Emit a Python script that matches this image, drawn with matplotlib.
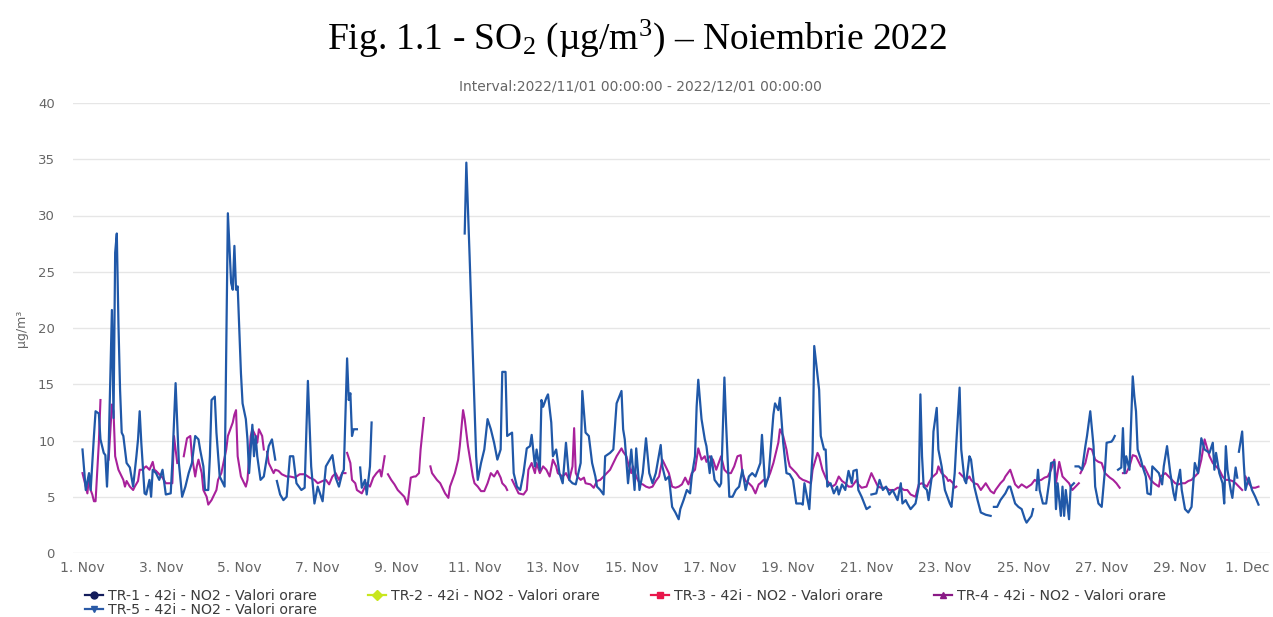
import numpy as np
import matplotlib
matplotlib.use('Agg')
import matplotlib.pyplot as plt
from matplotlib.lines import Line2D
from matplotlib.transforms import ScaledTranslation

plt.rcParams['font.family'] = ['DejaVu Sans']
plt.rcParams['mathtext.fontset'] = 'custom'
plt.rcParams['mathtext.rm'] = 'Liberation Serif'
plt.rcParams['mathtext.it'] = 'Liberation Serif:italic'

# hours since 2022-11-01 00:00 and hourly values in ug/m3 (None = missing data)
tr5_points = [
    (0, 9.2), (2, 5.6), (4, 7.1), (5, 5.6), (7, 10.4), (8, 12.6), (10, 12.4), (11, 10.1), (13, 8.9), (14, 8.7),
    (15, 5.9), (16, 9.2), (18, 21.6), (19, 12.0), (20, 26.7), (21, 28.4), (22, 20.4), (23, 14.5), (24, 10.7), (25, 10.4),
    (27, 8.0), (29, 7.6), (31, 5.9), (33, 8.6), (34, 10.1), (35, 12.6), (36, 9.8), (38, 5.3), (39, 5.2), (41, 6.5),
    (42, 5.0), (43, 7.4), (45, 7.1), (47, 6.5), (49, 7.4), (51, 5.2), (54, 5.3), (55, 8.0), (57, 15.1), (58, 11.6),
    (59, 8.0), (61, 5.0), (63, 5.9), (65, 7.1), (67, 8.0), (69, 10.4), (71, 10.1), (72, 9.2), (74, 7.7), (75, 5.6),
    (77, 5.6), (78, 8.6), (79, 13.6), (81, 13.9), (82, 10.7), (84, 6.8), (85, 6.5), (87, 5.9), (89, 30.2), (91, 24.0),
    (92, 23.4), (93, 27.3), (94, 23.4), (95, 23.7), (97, 16.0), (98, 13.3), (100, 11.9), (101, 10.1), (102, 7.1), (104, 11.4),
    (105, 8.6), (106, 10.4), (107, 8.6), (109, 6.5), (111, 6.8), (113, 8.6), (114, 9.5), (116, 10.1), (118, 8.3), (118.5, None),
    (119, 6.4), (121, 5.2), (123, 4.7), (125, 5.0), (127, 8.6), (129, 8.6), (131, 6.2), (134, 5.6), (136, 5.8), (138, 15.3),
    (140, 7.7), (142, 4.4), (144, 5.9), (147, 4.6), (149, 7.7), (153, 8.7), (155, 6.7), (157, 5.9), (159, 7.1), (160, 7.4),
    (162, 17.3), (163, 13.6), (164, 14.2), (165, 10.4), (166, 11.0), (168, 11.0), (169, None), (170, 7.6), (171, 5.8), (173, 6.5),
    (174, 5.2), (176, 7.7), (177, 11.6), (197, None), (234, 28.4), (235, 34.7), (237, 26.4), (239, 17.5), (241, 8.6), (242, 6.5),
    (244, 8.0), (246, 9.2), (248, 11.9), (250, 11.0), (252, 9.8), (254, 8.3), (256, 9.2), (257, 16.1), (259, 16.1), (260, 10.4),
    (263, 10.7), (264, 7.1), (266, 5.9), (268, 5.6), (270, 7.1), (272, 9.3), (274, 9.5), (275, 10.5), (277, 7.7), (278, 9.2),
    (280, 7.4), (281, 13.6), (282, 13.0), (284, 13.8), (285, 14.1), (287, 11.6), (288, 8.6), (290, 9.2), (292, 7.1), (294, 6.2),
    (296, 9.8), (298, 6.5), (300, 6.2), (302, 6.1), (305, 8.0), (306, 14.4), (308, 10.7), (310, 10.4), (312, 8.0), (314, 6.8),
    (315, 5.9), (317, 5.6), (319, 5.2), (320, 8.6), (323, 8.9), (325, 9.2), (327, 13.3), (330, 14.4), (331, 11.0), (332, 10.1),
    (334, 6.2), (336, 9.2), (338, 5.6), (339, 9.3), (341, 5.6), (343, 7.1), (345, 10.2), (347, 7.1), (349, 6.2), (351, 7.1),
    (354, 9.6), (355, 7.7), (357, 6.5), (359, 6.8), (361, 4.1), (363, 3.6), (365, 3.0), (366, 3.9), (368, 4.7), (370, 5.6),
    (372, 5.3), (373, 6.8), (375, 8.6), (376, 13.0), (377, 15.4), (379, 11.9), (381, 10.1), (382, 9.5), (384, 7.1), (385, 8.6),
    (387, 6.5), (390, 5.9), (391, 6.2), (393, 15.6), (394, 11.6), (396, 5.0), (398, 5.0), (400, 5.6), (402, 5.9), (404, 7.4),
    (406, 5.6), (408, 6.8), (410, 7.1), (412, 6.8), (415, 8.0), (416, 10.5), (418, 5.9), (420, 6.8), (423, 12.3), (424, 13.3),
    (426, 12.7), (427, 13.8), (429, 9.8), (431, 7.1), (433, 7.0), (435, 6.5), (437, 4.4), (440, 4.4), (441, 4.3), (442, 6.2),
    (444, 4.7), (445, 3.9), (447, 8.9), (448, 18.4), (451, 14.5), (452, 10.4), (454, 9.2), (455, 9.2), (456, 5.9), (458, 6.2),
    (460, 5.3), (462, 5.9), (463, 5.2), (465, 6.1), (467, 5.6), (469, 7.3), (471, 6.2), (472, 7.3), (474, 7.4), (475, 5.6),
    (477, 5.0), (480, 3.9), (482, 4.1), (482.5, None), (483, 5.2), (486, 5.3), (488, 6.5), (490, 5.6), (492, 5.9), (494, 5.2),
    (496, 5.6), (498, 5.0), (499, 4.7), (501, 6.2), (502, 4.4), (504, 4.7), (505, 4.4), (507, 3.9), (510, 4.4), (512, 5.9),
    (513, 14.1), (514, 8.6), (515, 5.9), (517, 5.6), (518, 4.7), (520, 6.8), (521, 10.8), (523, 12.9), (524, 9.2), (526, 7.7),
    (528, 5.6), (531, 4.4), (532, 4.1), (534, 7.1), (535, 9.8), (537, 14.7), (538, 9.2), (540, 6.5), (541, 6.2), (543, 8.6),
    (544, 8.3), (546, 5.9), (548, 4.7), (550, 3.6), (553, 3.4), (556, 3.3), (557, None), (558, 4.1), (560, 4.1), (562, 4.7),
    (565, 5.3), (567, 5.9), (568, 5.9), (571, 4.4), (573, 4.1), (575, 3.9), (577, 3.0), (578, 2.7), (581, 3.3), (582, 3.9),
    (583, None), (584, 5.6), (585, 7.4), (586, 5.6), (588, 4.4), (590, 4.4), (592, 6.5), (593, 8.0), (595, 8.1), (596, 3.9),
    (597, 6.2), (599, 3.3), (600, 5.9), (601, 3.3), (602, 5.6), (604, 3.0), (605, 5.9), (607, 6.2), (607.5, None), (608, 7.7),
    (610, 7.7), (612, 7.4), (614, 9.5), (615, 10.4), (617, 12.6), (619, 9.5), (620, 5.9), (622, 4.4), (624, 4.1), (626, 7.4),
    (627, 9.8), (630, 9.9), (631, 10.1), (632, 10.4), (633, None), (634, 7.4), (636, 7.6), (637, 11.1), (638, 7.1), (639, 8.6),
    (641, 7.4), (643, 15.7), (644, 13.9), (645, 12.6), (646, 9.2), (648, 8.3), (649, 7.7), (651, 6.8), (652, 5.3), (654, 5.2),
    (655, 7.7), (657, 7.4), (659, 7.1), (661, 6.1), (662, 7.7), (664, 9.5), (666, 7.1), (668, 5.3), (669, 4.7), (670, 5.9),
    (672, 7.4), (673, 5.6), (675, 3.9), (677, 3.6), (679, 4.1), (681, 8.0), (683, 7.1), (685, 10.2), (687, 9.2), (690, 8.9),
    (692, 9.8), (693, 7.4), (694, 8.9), (696, 7.1), (698, 6.2), (699, 4.4), (700, 9.5), (701, 7.4), (703, 5.6), (704, 4.9),
    (706, 7.6), (707, 6.7), (707.5, None), (708, 9.0), (710, 10.8), (711, 8.0), (712, 5.6), (714, 6.7), (716, 5.6), (718, 5.0),
    (720, 4.3),
]

tr4_points = [
    (0, 7.1), (2, 5.9), (3, 5.3), (4, 6.8), (5, 5.6), (6, 5.2), (7, 4.6), (8, 4.6), (10, 9.8), (11, 13.6),
    (13, None), (16, 8.3), (18, 13.2), (19, 12.6), (20, 8.6), (22, 7.4), (24, 6.8), (25, 6.5), (26, 5.9), (27, 6.4),
    (29, 5.9), (31, 5.6), (32, 5.9), (34, 6.4), (35, 7.4), (37, 7.4), (38, 7.6), (39, 7.7), (41, 7.4), (43, 8.1),
    (44, 7.4), (45, 7.3), (47, 7.0), (49, 6.7), (51, 6.2), (53, 6.2), (55, 6.2), (56, 10.4), (58, 8.0), (60, None),
    (62, 8.6), (64, 10.2), (66, 10.4), (67, 8.6), (69, 6.8), (70, 7.7), (71, 8.3), (73, 7.1), (74, 5.6), (76, 5.0),
    (77, 4.3), (79, 4.7), (82, 5.6), (83, 6.5), (85, 7.1), (88, 9.2), (89, 10.4), (92, 11.6), (93, 12.3), (94, 12.7),
    (95, 8.6), (97, 6.8), (98, 6.5), (100, 5.9), (101, 6.5), (103, 10.4), (104, 11.0), (106, 10.4), (107, 9.8), (108, 11.0),
    (110, 10.4), (111, 9.2), (112, None), (113, 9.0), (114, 8.0), (116, 7.4), (117, 7.1), (118, 7.4), (120, 7.3), (122, 7.0),
    (125, 6.8), (127, 6.8), (130, 6.7), (133, 7.0), (136, 7.0), (139, 6.7), (142, 6.5), (144, 6.2), (147, 6.4), (149, 6.5),
    (151, 6.1), (153, 6.8), (155, 7.1), (157, 6.5), (159, 7.1), (161, 7.1), (161.5, None), (162, 8.9), (164, 8.0), (165, 6.5),
    (167, 6.2), (168, 5.6), (171, 5.3), (173, 5.9), (174, 6.2), (176, 5.9), (178, 6.7), (180, 7.1), (182, 7.4), (183, 6.8),
    (185, 8.6), (186, None), (187, 7.0), (189, 6.5), (191, 6.1), (193, 5.6), (195, 5.3), (197, 5.0), (199, 4.3), (201, 6.7),
    (203, 6.8), (204, 6.8), (206, 7.1), (207, 9.2), (209, 12.0), (211, None), (213, 7.7), (214, 7.1), (217, 6.5), (219, 6.2),
    (221, 5.6), (222, 5.3), (224, 4.9), (225, 5.9), (227, 6.7), (228, 7.1), (230, 8.3), (231, 9.5), (233, 12.7), (234, 11.9),
    (236, 9.5), (237, 8.6), (239, 6.8), (240, 6.2), (242, 5.9), (244, 5.5), (246, 5.5), (248, 6.2), (250, 7.1), (252, 6.8),
    (254, 7.3), (256, 6.7), (257, 6.2), (259, 5.9), (260, 5.6), (261, None), (263, 6.5), (265, 5.9), (267, 5.3), (270, 5.2),
    (272, 5.6), (273, 7.4), (275, 8.0), (277, 7.1), (278, 8.0), (280, 7.1), (282, 7.7), (284, 7.4), (286, 6.8), (288, 8.3),
    (290, 7.7), (291, 7.1), (294, 6.8), (296, 7.1), (298, 6.5), (300, 7.7), (301, 11.1), (302, 7.1), (303, 6.8), (305, 6.5),
    (307, 6.7), (308, 6.2), (311, 6.1), (313, 5.8), (315, 6.4), (317, 6.5), (319, 6.8), (321, 7.1), (323, 7.4), (325, 8.0),
    (327, 8.6), (330, 9.3), (331, 9.0), (333, 8.6), (334, 8.0), (336, 7.1), (337, 7.7), (339, 6.8), (341, 6.2), (343, 6.1),
    (345, 5.9), (347, 5.8), (349, 5.9), (351, 6.4), (353, 6.8), (355, 8.3), (357, 7.7), (359, 7.1), (361, 5.9), (363, 5.8),
    (365, 5.9), (367, 6.1), (369, 6.7), (371, 6.1), (373, 7.1), (375, 7.4), (377, 9.3), (379, 8.3), (381, 8.6), (382, 8.1),
    (384, 8.6), (386, 8.3), (388, 7.4), (391, 8.6), (393, 7.4), (395, 7.1), (397, 7.1), (399, 7.7), (401, 8.6), (403, 8.7),
    (404, 7.1), (406, 6.4), (408, 6.2), (410, 5.9), (412, 5.3), (414, 6.1), (415, 6.2), (417, 6.5), (419, 6.4), (421, 7.1),
    (423, 8.0), (424, 8.6), (426, 9.8), (427, 11.0), (429, 10.4), (431, 9.2), (432, 8.3), (433, 7.7), (435, 7.4), (437, 7.1),
    (439, 6.7), (441, 6.5), (443, 6.4), (446, 6.2), (447, 7.4), (450, 8.9), (451, 8.6), (453, 7.4), (455, 6.7), (456, 6.4),
    (459, 5.9), (461, 6.1), (463, 6.8), (465, 6.4), (467, 6.2), (469, 5.9), (471, 5.9), (474, 6.5), (475, 6.1), (477, 5.8),
    (480, 5.9), (482, 6.7), (483, 7.1), (486, 6.2), (487, 5.9), (489, 5.8), (492, 5.8), (494, 5.6), (496, 5.6), (497, 5.6),
    (499, 5.8), (501, 5.8), (503, 5.6), (505, 5.6), (507, 5.2), (510, 5.0), (512, 6.1), (514, 6.2), (517, 5.9), (518, 6.2),
    (520, 6.7), (523, 7.1), (524, 7.7), (526, 7.1), (529, 6.7), (530, 6.4), (531, 6.5), (533, 6.2), (534, 5.8), (535, 5.9),
    (536, None), (537, 7.1), (539, 6.8), (541, 6.5), (543, 6.8), (544, 6.5), (546, 6.2), (548, 6.1), (550, 5.6), (553, 6.2),
    (556, 5.5), (558, 5.3), (559, 5.6), (562, 6.2), (564, 6.5), (565, 6.8), (568, 7.4), (571, 6.1), (573, 5.8), (575, 6.1),
    (577, 5.9), (578, 5.8), (581, 6.1), (583, 6.5), (584, 6.4), (587, 6.5), (589, 6.7), (591, 6.8), (593, 7.4), (595, 8.3),
    (596, 6.2), (598, 8.1), (600, 6.8), (602, 6.5), (604, 6.2), (606, 5.6), (608, 5.9), (610, 6.2), (610.5, None), (611, 7.1),
    (614, 8.0), (616, 9.3), (618, 9.2), (620, 8.3), (622, 8.1), (624, 8.0), (626, 7.1), (629, 6.7), (631, 6.5), (633, 6.2),
    (635, 5.8), (636, None), (637, 7.1), (639, 7.1), (641, 7.7), (643, 8.7), (645, 8.6), (646, 8.3), (648, 7.7), (650, 7.7),
    (652, 7.1), (654, 6.5), (656, 6.2), (659, 5.9), (660, 6.8), (663, 7.1), (665, 6.8), (667, 6.5), (669, 6.2), (671, 6.1),
    (673, 6.2), (675, 6.2), (677, 6.4), (679, 6.5), (681, 6.8), (683, 7.1), (685, 8.3), (687, 10.1), (690, 8.6), (692, 8.0),
    (694, 7.7), (696, 7.4), (698, 6.8), (700, 6.5), (702, 6.5), (704, 6.4), (706, 6.2), (708, 5.9), (710, 5.6), (711, None),
    (712, 6.8), (714, 6.2), (716, 5.8), (718, 5.8), (720, 5.9),
]

x_tick_hours = list(range(0, 721, 48))
x_tick_labels = ['1. Nov', '3. Nov', '5. Nov', '7. Nov', '9. Nov', '11. Nov', '13. Nov', '15. Nov',
                 '17. Nov', '19. Nov', '21. Nov', '23. Nov', '25. Nov', '27. Nov', '29. Nov', '1. Dec']
y_ticks = [0, 5, 10, 15, 20, 25, 30, 35, 40]

series_names = ['TR-1 - 42i - NO2 - Valori orare', 'TR-2 - 42i - NO2 - Valori orare',
                'TR-3 - 42i - NO2 - Valori orare', 'TR-4 - 42i - NO2 - Valori orare',
                'TR-5 - 42i - NO2 - Valori orare']
series_colors = ['#141d5c', '#c8e61e', '#e8174b', '#8a1a86', '#2a5aa6']
series_markers = ['o', 'D', 's', '^', 'v']

LINE_TR4 = '#a8219b'
LINE_TR5 = '#2058a8'


def split(points):
    h = np.array([p[0] for p in points], dtype=float)
    v = np.array([np.nan if p[1] is None else p[1] for p in points], dtype=float)
    return h, v


W, H = 1273, 617
fig = plt.figure(figsize=(W / 100, H / 100), dpi=100)
ax = fig.add_axes([73 / W, 1 - 553 / H, (1270 - 73) / W, (553 - 103) / H])

h4, v4 = split(tr4_points)
h5, v5 = split(tr5_points)
ax.plot(h4, v4, color=LINE_TR4, lw=1.5, solid_joinstyle='round', zorder=3)
ax.plot(h5, v5, color=LINE_TR5, lw=1.6, solid_joinstyle='round', zorder=4)

px_per_hour = (1258.5 - 82.5) / 720
ax.set_xlim(-(82.5 - 73) / px_per_hour, 720 + (1270 - 1258.5) / px_per_hour)
ax.set_ylim(0, 40)
ax.set_yticks(y_ticks)
ax.set_yticklabels([str(t) for t in y_ticks])
ax.set_xticks(x_tick_hours)
ax.set_xticklabels(x_tick_labels)

ax.grid(axis='y', color='#e6e6e6', lw=1)
ax.set_axisbelow(True)
for s in ax.spines.values():
    s.set_visible(False)
ax.tick_params(axis='both', length=0, colors='#666666')
ax.tick_params(axis='x', labelsize=10, pad=5.5)
ax.tick_params(axis='y', labelsize=9.5, pad=13)

last = ax.get_xticklabels()[-1]
last.set_horizontalalignment('right')
last.set_transform(last.get_transform() + ScaledTranslation(11.5 / 100, 0, fig.dpi_scale_trans))

fig.text(22 / W, 1 - 328 / H, 'µg/m³', rotation=90, color='#666666', fontsize=9,
         ha='center', va='center')

fig.text(637 / W, 1 - 38 / H, 'Fig. 1.1 - SO$_2$ (µg/m$^3$) – Noiembrie 2022',
         family='Liberation Serif', fontsize=27, ha='center', va='center', color='black')
fig.text(640 / W, 1 - 87 / H, 'Interval:2022/11/01 00:00:00 - 2022/12/01 00:00:00',
         fontsize=10, ha='center', va='center', color='#666666')

handles = [Line2D([], [], color=c, marker=m, markersize=5, lw=1.6) for c, m in zip(series_colors, series_markers)]
order = [0, 4, 1, 2, 3]
LEG_FS = 10.2
fs_px = LEG_FS * 100 / 72


def make_legend(colsp, lsp):
    lg = fig.legend([handles[i] for i in order], [series_names[i] for i in order],
                    loc='upper left', bbox_to_anchor=(85 / W, 1 - 589 / H), ncol=4, frameon=False,
                    fontsize=LEG_FS, handlelength=18 / fs_px, handletextpad=5 / fs_px,
                    columnspacing=colsp, labelspacing=lsp, borderaxespad=0, borderpad=0)
    for t in lg.get_texts():
        t.set_color('#3c3c3c')
    return lg


leg = make_legend(2.0, 0.0)
fig.canvas.draw()
texts = leg.get_texts()
tw = texts[0].get_window_extent().width
pitch = texts[0].get_window_extent().y0 - texts[1].get_window_extent().y0
leg.remove()
colsp = (283 - 18 - 5 - tw) / fs_px
lsp = (13.5 - pitch) / fs_px
leg = make_legend(colsp, lsp)

fig.savefig('out.png', dpi=100)
